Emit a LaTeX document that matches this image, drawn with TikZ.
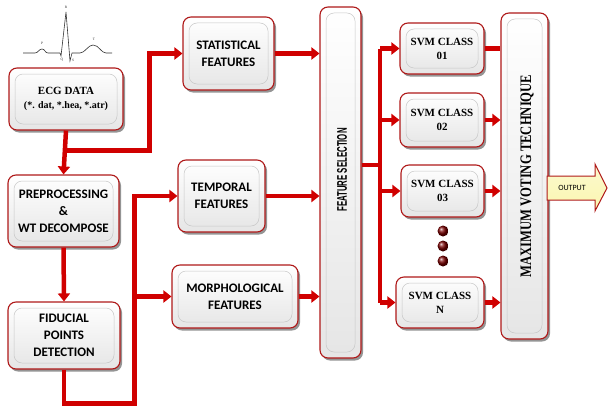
\documentclass[tikz,border=0pt]{standalone}
\usepackage{fontspec}
\setmainfont{Liberation Serif}
\newfontfamily\calib{Carlito}
\newfontfamily\arl{Liberation Sans}
\usetikzlibrary{arrows.meta,shadows,calc}
\definecolor{arrred}{RGB}{208,0,0}
\definecolor{bord}{RGB}{175,25,25}
\definecolor{outfill}{RGB}{250,246,175}
\begin{document}
\begin{tikzpicture}[x=1pt,y=-1pt,
  box/.style={draw=bord, line width=1.1pt, rounded corners=8pt,
    top color=white, bottom color=black!10,
    drop shadow={shadow xshift=2pt, shadow yshift=-2.5pt, fill=black!60, opacity=.7},
    align=center, inner sep=0pt,
    path picture={\draw[black!22, line width=.5pt]
      ([shift={(6pt,6pt)}]path picture bounding box.south west) rectangle
      ([shift={(-6pt,-6pt)}]path picture bounding box.north east);}},
  sanstxt/.style={font=\calib\bfseries\fontsize{13}{17}\selectfont},
  seriftxt/.style={font=\bfseries\fontsize{11}{14}\selectfont},
  pipe/.style={draw=arrred, line width=4.5pt, line join=miter},
  arr/.style={pipe, -{Triangle[width=12pt,length=8pt]}},
  wavelbl/.style={font=\fontsize{3.5}{4}\selectfont, inner sep=0pt, text=black!85},
  dot/.style={circle, minimum size=11pt, inner sep=0pt, shading=ball, ball color={rgb,255:red,120;green,0;blue,0}}
]
\useasboundingbox (0,0) rectangle (609,412);

% ECG waveform
\draw[black!80, line width=0.6pt] (23,53) -- (35,53)
  .. controls (38,53) and (39,49) .. (42,49)
  .. controls (45,49) and (45,53) .. (48,53) -- (60,53) -- (61,56) -- (66,12) -- (70,61) -- (72,53) -- (80,53)
  .. controls (85,53) and (88,45) .. (93,45)
  .. controls (99,45) and (101,53) .. (106,53) -- (112,53);
\node[wavelbl] (lp) at (42,43) {P};
\node[wavelbl] (lr) at (66,7) {R};
\node[wavelbl] (lq) at (62,60) {Q};
\node[wavelbl] (ls) at (73,60) {S};
\node[wavelbl] (lt) at (94,39) {T};

% boxes
\node[box, seriftxt, minimum width=114pt, minimum height=62pt] (ecg) at (66,99) {ECG DATA\\[0pt]\fontsize{10}{14}\selectfont(*. dat, *.hea, *.atr)};
\node[box, sanstxt, minimum width=111pt, minimum height=72pt] (prep) at (63.5,211) {PREPROCESSING\\\&\\WT DECOMPOSE};
\node[box, sanstxt, minimum width=112pt, minimum height=67pt] (fid) at (64,335.5) {FIDUCIAL\\POINTS\\DETECTION};
\node[box, sanstxt, minimum width=91pt, minimum height=73pt] (stat) at (228.5,53.5) {STATISTICAL\\FEATURES};
\node[box, sanstxt, minimum width=87pt, minimum height=72pt] (temp) at (221.5,196) {TEMPORAL\\FEATURES};
\node[box, sanstxt, minimum width=126pt, minimum height=63pt] (morph) at (235,296.5) {MORPHOLOGICAL\\FEATURES};
\node[box, minimum width=41pt, minimum height=351pt] (fs) at (340.5,182.5) {};
\node[rotate=90, xscale=0.56, font=\arl\bfseries\fontsize{14}{16}\selectfont] (fstxt) at (342,170) {FEATURE SELECTION};
\node[box, seriftxt, minimum width=84pt, minimum height=51pt] (svm1) at (442,48.5) {SVM CLASS\\01};
\node[box, seriftxt, minimum width=84pt, minimum height=54pt] (svm2) at (442,120) {SVM CLASS\\02};
\node[box, seriftxt, minimum width=83pt, minimum height=52pt] (svm3) at (442.5,191) {SVM CLASS\\03};
\node[box, seriftxt, minimum width=88pt, minimum height=51pt] (svmn) at (440,302.5) {SVM CLASS\\N};
\node[box, minimum width=47pt, minimum height=326pt] (mv) at (524.5,176) {};
\node[rotate=90, xscale=0.79, font=\bfseries\fontsize{16}{18}\selectfont] (mvtxt) at (527,176) {MAXIMUM VOTING TECHNIQUE};

% dots
\node[dot] (d1) at (443,231) {};
\node[dot] (d2) at (443,246) {};
\node[dot] (d3) at (443,261) {};

% output arrow
\draw[draw=bord, line width=1pt, top color=outfill!60!white, bottom color=outfill, line join=miter]
  (547,176) -- (595,176) -- (595,164) -- (607,188) -- (595,211) -- (595,200) -- (547,200) -- cycle;
\node[font=\calib\fontsize{8}{9}\selectfont] (outtxt) at (572,188) {OUTPUT};

% connectors
\coordinate (b1) at ($(ecg.south)+(0,20)$);
\draw[arr] (ecg.south) -- (prep.north);
\draw[arr] (b1) -| ([xshift=-33pt]stat.west) -- (stat.west);
\draw[arr] (prep.south) -- (fid.north);
\draw[arr] (fid.south) -- ++(0,34) -| ([xshift=-43pt]temp.west) -- (temp.west);
\draw[arr] ([xshift=-37pt]morph.west) -- (morph.west);
\draw[arr] (stat.east) -- (stat.east -| fs.west);
\draw[arr] (temp.east) -- (temp.east -| fs.west);
\draw[arr] (morph.east) -- (morph.east -| fs.west);

\coordinate (fo) at (361,165);
\coordinate (vb) at (380,165);
\draw[pipe] (fs.east |- fo) -- (vb);
\draw[pipe] (vb |- svm1.west) -- (vb |- svmn.west);
\draw[arr] (vb |- svm1.west) -- (svm1.west);
\draw[arr] (vb |- svm2.west) -- (svm2.west);
\draw[arr] (vb |- svm3.west) -- (svm3.west);
\draw[arr] (vb |- svmn.west) -- (svmn.west);
\draw[pipe] (svm1.east) -- (svm1.east -| mv.west);
\draw[arr] (svm2.east) -- (svm2.east -| mv.west);
\draw[arr] (svm3.east) -- (svm3.east -| mv.west);
\draw[arr] (svmn.east) -- (svmn.east -| mv.west);
\end{tikzpicture}
\end{document}
